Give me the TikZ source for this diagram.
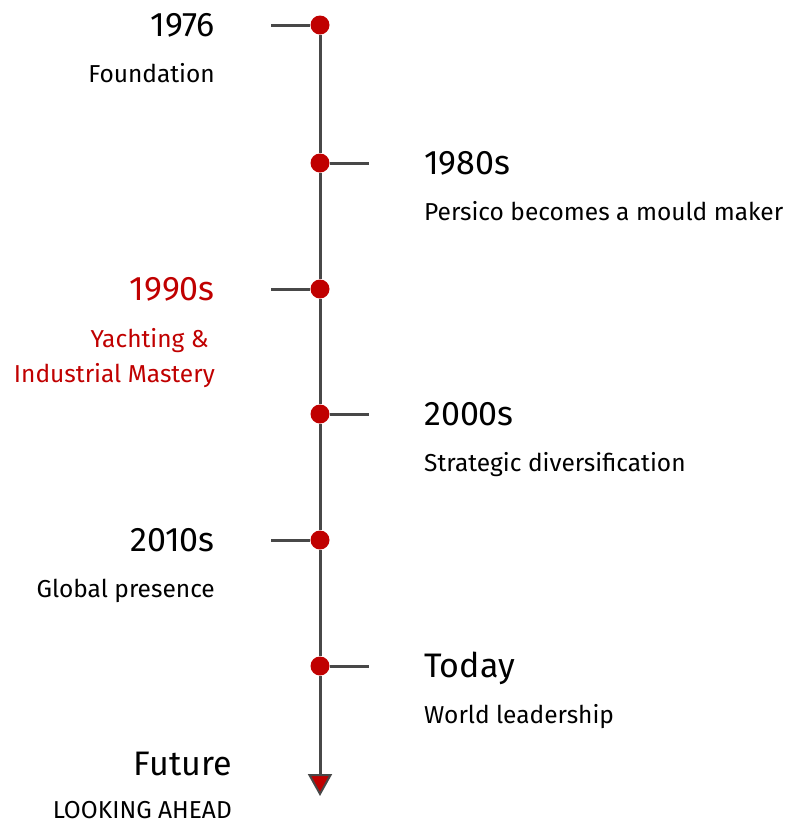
\documentclass[tikz,border=0pt]{standalone}
\usepackage{fontspec}
\setmainfont{Fira Sans}
\usetikzlibrary{arrows.meta}
\definecolor{tlred}{HTML}{C00000}
\definecolor{tlgray}{HTML}{484848}

\begin{document}
\begin{tikzpicture}[x=1pt,y=-1pt,
    dot/.style = {circle, fill=tlred, inner sep=0pt, minimum size=19pt},
    spine/.style = {draw=tlgray, line width=3pt},
    year/.style = {inner sep=0pt, font=\fontsize{34}{40}\selectfont},
    desc/.style = {inner sep=0pt, font=\fontsize{24.5}{35}\selectfont, align=right}]
                \useasboundingbox (0,0) rectangle (787,823);

                % dots on the line
                \foreach \y [count = \i] in {25,163,289,414,540,666} {
                    \node[dot] (d\i) at (320,\y) {};
                }
                \coordinate (tip) at (320,796);

                % the line itself
                \draw[spine] (d1) -- (d2);
                \draw[spine] (d2) -- (d3);
                \draw[spine] (d3) -- (d4);
                \draw[spine] (d4) -- (d5);
                \draw[spine] (d5) -- (d6);
                \draw[spine, -{Triangle[width=24pt,length=22pt,fill=tlred,line width=2pt]}] (d6) -- (tip);

                % events on the left
                \foreach \i/\y/\yr/\txt in {1/25/1976/Foundation, 5/540/2010s/Global presence} {
                    \coordinate (s\i) at (271,\y);
                    \draw[spine] (s\i) -- (d\i);
                    \node[year, anchor=base east] (y\i) at (215,\y+11) {\yr};
                    \node[desc, anchor=base east] (t\i) at (215,\y+57) {\txt};
                }

                % events on the right
                \foreach \i/\y/\yr/\txt in {2/163/1980s/Persico becomes a mould maker,
                                             4/414/2000s/Strategic diversification,
                                             6/666/Today/World leadership} {
                    \coordinate (s\i) at (369,\y);
                    \draw[spine] (d\i) -- (s\i);
                    \node[year, anchor=base west] (y\i) at (424,\y+11) {\yr};
                    \node[desc, anchor=base west] (t\i) at (424,\y+57) {\txt};
                }

                % the highlighted one
                \coordinate (s3) at (271,289);
                \draw[spine] (s3) -- (d3);
                \node[year, anchor=base east, text=tlred] (y3) at (215,300) {1990s};
                \node[desc, anchor=base east, text=tlred] (t3) at (215,347) {Yachting \&\hspace*{6pt}};
                \node[desc, anchor=base east, text=tlred] (u3) at (215,382) {Industrial Mastery};

                % what comes next
                \node[year, anchor=base east] (y7) at (232,775) {Future};
                \node[desc, anchor=base east] (t7) at (232,818) {LOOKING AHEAD};
            \end{tikzpicture}
\end{document}
